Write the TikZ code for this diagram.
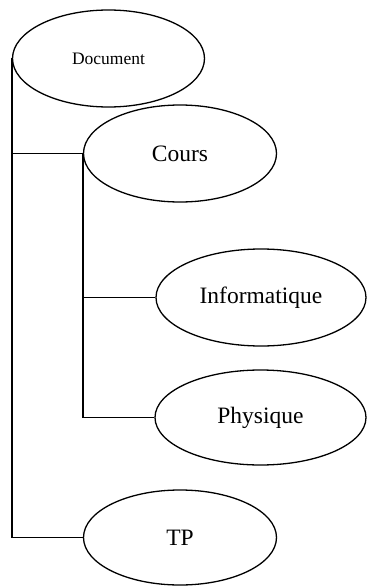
\documentclass[tikz,border=0pt]{standalone}
\usepackage{fontspec}
\setmainfont{Liberation Serif}
\usetikzlibrary{shapes.geometric}
\tikzset{
  bulle/.style={draw,ellipse,line width=1.3pt,inner sep=0pt,minimum height=97pt,
    font=\fontsize{23.5}{28}\selectfont},
  lien/.style={line width=1.3pt}
}
\begin{document}
\begin{tikzpicture}[x=1pt,y=-1pt]
	\useasboundingbox (0,0) rectangle (367,586);
	
	%ellipses
	\node[bulle,minimum width=192pt,font=\fontsize{17.5}{21}\selectfont] (doc) at (108.5,58.5) {Document};
	\node[bulle,minimum width=193pt] (cours) at (180,153.5) {Cours};
	\node[bulle,minimum width=210pt] (info) at (261,297.5) {Informatique};
	\node[bulle,minimum width=211pt,minimum height=95pt] (phys) at (260.5,417.5) {Physique};
	\node[bulle,minimum width=193pt,minimum height=95pt] (tp) at (180,537.5) {TP};
	
	%lines
	\draw[lien] (doc.west) |- (tp.west); %outer
	\draw[lien] (doc.west) |- (cours.west);
	\draw[lien] (cours.west) |- (info.west); %inner
	\draw[lien] (cours.west) |- (phys.west);
	
\end{tikzpicture}
\end{document}
